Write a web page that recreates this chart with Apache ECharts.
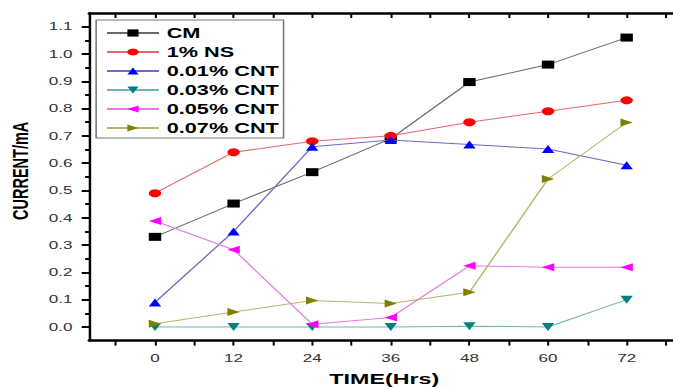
<!DOCTYPE html>
<html>
<head>
<meta charset="utf-8">
<script src="https://cdn.jsdelivr.net/npm/echarts@6/dist/echarts.min.js"></script>
<style>
html,body{margin:0;padding:0;background:#fff;}
#wrap{width:673px;height:389px;overflow:hidden;position:relative;}
#c{width:434px;height:389px;transform:scaleX(1.5507);transform-origin:0 0;}
</style>
</head>
<body>
<div id="wrap"><div id="c"></div></div>
<script>
const times = [0, 12, 24, 36, 48, 60, 72];
const seriesNames = ['CM', '1% NS', '0.01% CNT', '0.03% CNT', '0.05% CNT', '0.07% CNT'];
const cm      = [0.33, 0.452, 0.567, 0.69, 0.897, 0.961, 1.06];
const ns1     = [0.49, 0.64, 0.68, 0.70, 0.75, 0.79, 0.83];
const cnt001  = [0.09, 0.35, 0.66, 0.685, 0.668, 0.652, 0.592];
const cnt003  = [0.0, 0.0, 0.0, 0.0, 0.003, 0.0, 0.10];
const cnt005  = [0.388, 0.283, 0.01, 0.035, 0.224, 0.219, 0.219];
const cnt007  = [0.012, 0.055, 0.097, 0.086, 0.127, 0.542, 0.749];
const xTickLabels = [0, 12, 24, 36, 48, 60, 72];
const xTicks = [-6, 0, 6, 12, 18, 24, 30, 36, 42, 48, 54, 60, 66, 72, 78];
const yTickLabels = [0, 0.1, 0.2, 0.3, 0.4, 0.5, 0.6, 0.7, 0.8, 0.9, 1.0, 1.1];
const yMinorTicks = [0.05, 0.15, 0.25, 0.35, 0.45, 0.55, 0.65, 0.75, 0.85, 0.95, 1.05];

const allValues = [cm, ns1, cnt001, cnt003, cnt005, cnt007];
const markerColors = ['#000000', '#ff0000', '#0000ff', '#008080', '#ff00ff', '#808000'];
const lineColors = ['#6a6a6a', '#e46a6a', '#6b6bc8', '#6fb5b5', '#e47ae4', '#b8b46e'];
const symbols = ['rect', 'circle', 'triangle', 'triangle', 'triangle', 'triangle'];
const rotates = [0, 0, 0, 180, 90, -90];
const sizes = [8, 8, 8, 8, 8, 8];

const font = 'Liberation Sans, Arial, sans-serif';
const narrow = 'Liberation Sans Narrow, Arial Narrow, sans-serif';
const chart = echarts.init(document.getElementById('c'), null, {renderer: 'svg'});

const series = seriesNames.map((n, i) => ({
  name: n,
  type: 'line',
  xAxisIndex: 0,
  yAxisIndex: 0,
  data: times.map((t, j) => [t, allValues[i][j]]),
  symbol: symbols[i],
  symbolRotate: rotates[i],
  symbolSize: sizes[i],
  itemStyle: {color: markerColors[i]},
  lineStyle: {color: lineColors[i], width: 1},
  animation: false,
  z: 2 + i
}));

chart.setOption({
  animation: false,
  grid: {left: 57.7, top: 13, right: -3.9, bottom: 48.4, containLabel: false, outerBoundsMode: 'none'},
  legend: {
    orient: 'vertical',
    left: 62, top: 20,
    padding: [6, 3, 3, 6],
    itemWidth: 33.5, itemHeight: 9, itemGap: 5,
    borderColor: '#777', borderWidth: 1,
    backgroundColor: '#fff',
    textStyle: {fontFamily: font, fontWeight: 'bold', fontSize: 14, color: '#000', lineHeight: 14},
    data: seriesNames
  },
  xAxis: [
    {
      type: 'value', position: 'bottom', min: -10, max: 80,
      axisLine: {show: true, onZero: false, lineStyle: {color: '#000', width: 2.5}},
      axisTick: {show: true, customValues: xTicks, length: 5, inside: false, lineStyle: {color: '#000', width: 1.3}},
      axisLabel: {show: true, customValues: xTickLabels, margin: 12, fontFamily: font, fontSize: 11, color: '#333'},
      splitLine: {show: false},
      name: 'TIME(Hrs)', nameLocation: 'middle', nameGap: 31,
      nameTextStyle: {fontFamily: font, fontWeight: 'bold', fontSize: 15, color: '#000'}
    },
    {
      type: 'value', position: 'top', min: -10, max: 80,
      axisLine: {show: true, onZero: false, lineStyle: {color: '#000', width: 2.5}},
      axisTick: {show: true, customValues: xTicks, length: 5, inside: true, lineStyle: {color: '#000', width: 1.3}},
      axisLabel: {show: false},
      splitLine: {show: false}
    }
  ],
  yAxis: [
    {
      type: 'value', position: 'left', min: -0.05, max: 1.15,
      axisLine: {show: true, onZero: false, lineStyle: {color: '#000', width: 1.6}},
      axisTick: {show: true, customValues: yTickLabels, length: 5, inside: false, lineStyle: {color: '#000', width: 2}},
      axisLabel: {show: true, customValues: yTickLabels, margin: 11, fontFamily: font, fontSize: 11, color: '#333',
        formatter: v => Number(v).toFixed(1)},
      splitLine: {show: false},
      name: 'CURRENT/mA', nameLocation: 'middle', nameGap: 34, nameRotate: 90,
      nameTextStyle: {fontFamily: narrow, fontWeight: 'bold', fontSize: 14.5, color: '#000', padding: [0, 0, 0, 12]}
    },
    {
      type: 'value', position: 'left', min: -0.05, max: 1.15,
      axisLine: {show: false, onZero: false},
      axisTick: {show: true, customValues: yMinorTicks, length: 2.8, inside: false, lineStyle: {color: '#000', width: 2}},
      axisLabel: {show: false},
      splitLine: {show: false}
    },
    {
      type: 'value', position: 'right', min: -0.05, max: 1.15,
      axisLine: {show: true, onZero: false, lineStyle: {color: '#000', width: 1.6}},
      axisTick: {show: true, customValues: yTickLabels, length: 3.5, inside: true, lineStyle: {color: '#000', width: 2}},
      axisLabel: {show: false},
      splitLine: {show: false}
    }
  ],
  series: series
});
</script>
</body>
</html>
